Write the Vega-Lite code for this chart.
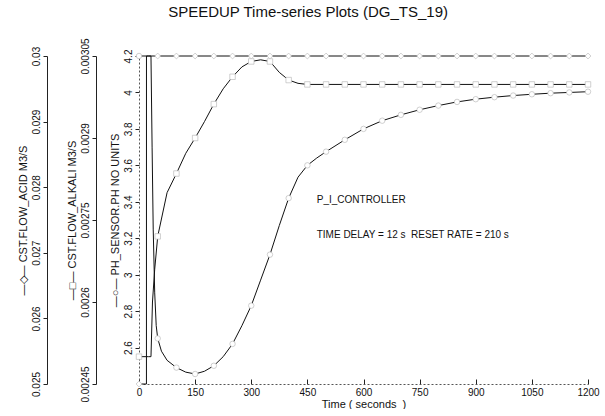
{
  "$schema": "https://vega.github.io/schema/vega-lite/v6.json",
  "width": 449,
  "height": 328,
  "autosize": {"type": "pad"},
  "padding": {"left": 17, "top": 4, "right": 5, "bottom": 0},
  "background": "white",
  "config": {
    "view": {"stroke": null},
    "font": "Liberation Sans",
    "axis": {
      "grid": false,
      "labelFont": "Liberation Sans",
      "titleFont": "Liberation Sans",
      "labelColor": "#111",
      "titleColor": "#111",
      "titleFontWeight": "normal",
      "labelFontSize": 10,
      "titleFontSize": 11,
      "domainColor": "#222",
      "tickColor": "#222"
    }
  },
  "title": {
    "text": "SPEEDUP Time-series Plots (DG_TS_19)",
    "fontSize": 15,
    "fontWeight": "normal",
    "font": "Liberation Sans",
    "frame": "bounds",
    "anchor": "middle",
    "offset": 18,
    "color": "#111"
  },
  "datasets": {
    "acid": [
      {"t": 0, "v": 0.025}, {"t": 19.9, "v": 0.025}, {"t": 20, "v": 0.03},
      {"t": 50, "v": 0.03}, {"t": 100, "v": 0.03}, {"t": 150, "v": 0.03}, {"t": 200, "v": 0.03},
      {"t": 250, "v": 0.03}, {"t": 300, "v": 0.03}, {"t": 350, "v": 0.03}, {"t": 400, "v": 0.03},
      {"t": 450, "v": 0.03}, {"t": 500, "v": 0.03}, {"t": 550, "v": 0.03}, {"t": 600, "v": 0.03},
      {"t": 650, "v": 0.03}, {"t": 700, "v": 0.03}, {"t": 750, "v": 0.03}, {"t": 800, "v": 0.03},
      {"t": 850, "v": 0.03}, {"t": 900, "v": 0.03}, {"t": 950, "v": 0.03}, {"t": 1000, "v": 0.03},
      {"t": 1050, "v": 0.03}, {"t": 1100, "v": 0.03}, {"t": 1150, "v": 0.03}, {"t": 1200, "v": 0.03}
    ],
    "alkali": [
      {"t": 0, "v": 0.0025}, {"t": 25, "v": 0.0025}, {"t": 32, "v": 0.0025}, {"t": 36, "v": 0.0026},
      {"t": 42, "v": 0.00266}, {"t": 50, "v": 0.00272}, {"t": 75, "v": 0.0028}, {"t": 100, "v": 0.002835},
      {"t": 125, "v": 0.002872}, {"t": 150, "v": 0.0029}, {"t": 175, "v": 0.00293}, {"t": 200, "v": 0.002962},
      {"t": 225, "v": 0.00299}, {"t": 250, "v": 0.003012}, {"t": 275, "v": 0.00303}, {"t": 300, "v": 0.00304},
      {"t": 325, "v": 0.003043}, {"t": 350, "v": 0.00304}, {"t": 375, "v": 0.00302}, {"t": 400, "v": 0.003006},
      {"t": 425, "v": 0.003}, {"t": 450, "v": 0.002998}, {"t": 500, "v": 0.002998}, {"t": 550, "v": 0.002998},
      {"t": 600, "v": 0.002998}, {"t": 650, "v": 0.002998}, {"t": 700, "v": 0.002998}, {"t": 750, "v": 0.002998},
      {"t": 800, "v": 0.002998}, {"t": 850, "v": 0.002998}, {"t": 900, "v": 0.002998}, {"t": 950, "v": 0.002998},
      {"t": 1000, "v": 0.002998}, {"t": 1050, "v": 0.002998}, {"t": 1100, "v": 0.002998}, {"t": 1150, "v": 0.002998},
      {"t": 1200, "v": 0.002998}
    ],
    "ph": [
      {"t": 0, "v": 4.2}, {"t": 25, "v": 4.2}, {"t": 32, "v": 4.2}, {"t": 35, "v": 3.7},
      {"t": 38, "v": 3.25}, {"t": 42, "v": 2.9}, {"t": 46, "v": 2.72}, {"t": 50, "v": 2.65},
      {"t": 60, "v": 2.58}, {"t": 75, "v": 2.53}, {"t": 100, "v": 2.49}, {"t": 125, "v": 2.465},
      {"t": 150, "v": 2.455}, {"t": 175, "v": 2.47}, {"t": 200, "v": 2.5}, {"t": 225, "v": 2.55},
      {"t": 250, "v": 2.62}, {"t": 275, "v": 2.72}, {"t": 300, "v": 2.83}, {"t": 325, "v": 2.97},
      {"t": 350, "v": 3.11}, {"t": 375, "v": 3.27}, {"t": 400, "v": 3.42}, {"t": 425, "v": 3.535},
      {"t": 450, "v": 3.6}, {"t": 475, "v": 3.64}, {"t": 500, "v": 3.675}, {"t": 550, "v": 3.74},
      {"t": 600, "v": 3.8}, {"t": 650, "v": 3.845}, {"t": 700, "v": 3.877}, {"t": 750, "v": 3.905},
      {"t": 800, "v": 3.928}, {"t": 850, "v": 3.948}, {"t": 900, "v": 3.963}, {"t": 950, "v": 3.974},
      {"t": 1000, "v": 3.983}, {"t": 1050, "v": 3.99}, {"t": 1100, "v": 3.996}, {"t": 1150, "v": 4.0},
      {"t": 1200, "v": 4.004}
    ],
    "notes": [
      {"t": 475, "v": 3.41, "label": "P_I_CONTROLLER"},
      {"t": 475, "v": 3.22, "label": "TIME DELAY = 12 s\u00a0 RESET RATE = 210 s"}
    ]
  },
  "encoding": {
    "x": {
      "field": "t",
      "type": "quantitative",
      "scale": {"domain": [0, 1200], "nice": false},
      "axis": {
        "values": [0, 150, 300, 450, 600, 750, 900, 1050, 1200],
        "format": "d",
        "title": "Time ( seconds\u00a0 )",
        "tickSize": -5,
        "labelPadding": 8,
        "domainDash": [2, 2],
        "domainColor": "#555",
        "labelFlush": false,
        "titlePadding": 1
      }
    }
  },
  "layer": [
    {
      "data": {"name": "acid"},
      "encoding": {
        "y": {
          "field": "v",
          "type": "quantitative",
          "scale": {"domain": [0.025, 0.03], "nice": false, "zero": false},
          "axis": {
            "orient": "left",
            "offset": 92,
            "values": [0.025, 0.026, 0.027, 0.028, 0.029, 0.03],
            "labelExpr": "format(datum.value, '~g')",
            "title": "—◇— CST.FLOW_ACID M3/S",
            "labelAngle": -90,
            "labelAlign": "center",
            "labelBaseline": "bottom",
            "tickSize": 4,
            "labelPadding": 2,
            "titlePadding": 3
          }
        }
      },
      "layer": [
        {"mark": {"type": "line", "color": "#111", "strokeWidth": 1}},
        {
          "transform": [{"filter": "datum.t % 50 == 0"}],
          "mark": {"type": "point", "shape": "diamond", "filled": true, "color": "white", "stroke": "#bbb", "strokeWidth": 0.7, "size": 34, "opacity": 1}
        }
      ]
    },
    {
      "data": {"name": "alkali"},
      "encoding": {
        "y": {
          "field": "v",
          "type": "quantitative",
          "scale": {"domain": [0.00245, 0.00305], "nice": false, "zero": false},
          "axis": {
            "orient": "left",
            "offset": 43,
            "values": [0.00245, 0.0026, 0.00275, 0.0029, 0.00305],
            "labelExpr": "format(datum.value, '~g')",
            "title": "—□— CST.FLOW_ALKALI M3/S",
            "labelAngle": -90,
            "labelAlign": "center",
            "labelBaseline": "bottom",
            "tickSize": 4,
            "labelPadding": 2,
            "titlePadding": 3
          }
        }
      },
      "layer": [
        {"mark": {"type": "line", "color": "#111", "strokeWidth": 1}},
        {
          "transform": [{"filter": "datum.t % 50 == 0"}],
          "mark": {"type": "point", "shape": "square", "filled": true, "color": "white", "stroke": "#bbb", "strokeWidth": 0.7, "size": 30, "opacity": 1}
        }
      ]
    },
    {
      "encoding": {
        "y": {
          "field": "v",
          "type": "quantitative",
          "scale": {"domain": [2.4, 4.2], "nice": false, "zero": false},
          "axis": {
            "orient": "left",
            "offset": 0,
            "values": [2.6, 2.8, 3, 3.2, 3.4, 3.6, 3.8, 4, 4.2],
            "labelExpr": "format(datum.value, '~g')",
            "title": "—○— PH_SENSOR.PH NO UNITS",
            "labelAngle": -90,
            "labelAlign": "center",
            "labelBaseline": "bottom",
            "tickSize": 4,
            "labelPadding": 2,
            "titlePadding": 3,
            "domainDash": [2, 2],
            "domainColor": "#555"
          }
        }
      },
      "layer": [
        {"data": {"name": "ph"}, "mark": {"type": "line", "color": "#111", "strokeWidth": 1}},
        {
          "data": {"name": "ph"},
          "transform": [{"filter": "datum.t % 50 == 0"}],
          "mark": {"type": "point", "shape": "circle", "filled": true, "color": "white", "stroke": "#bbb", "strokeWidth": 0.7, "size": 30, "opacity": 1}
        },
        {
          "data": {"name": "notes"},
          "mark": {"type": "text", "align": "left", "baseline": "middle", "fontSize": 10, "font": "Liberation Sans", "color": "#111"},
          "encoding": {"text": {"field": "label", "type": "nominal"}}
        }
      ]
    }
  ],
  "resolve": {"scale": {"y": "independent"}, "axis": {"y": "independent"}}
}
